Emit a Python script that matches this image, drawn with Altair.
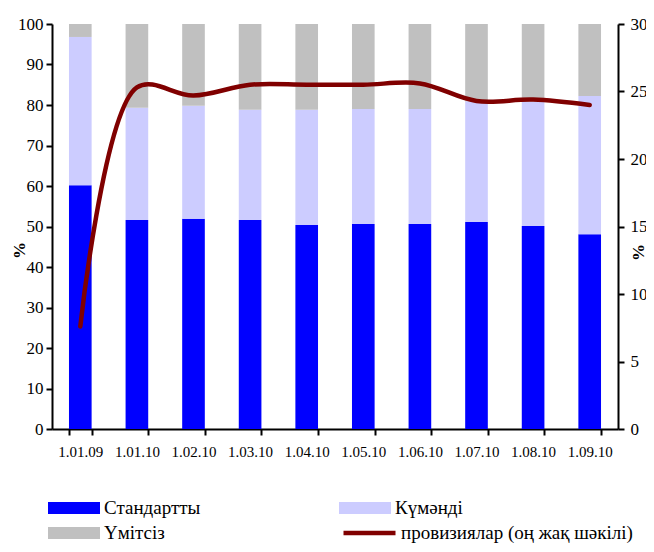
import altair as alt
import pandas as pd

dates = ["1.01.09", "1.01.10", "1.02.10", "1.03.10", "1.04.10",
         "1.05.10", "1.06.10", "1.07.10", "1.08.10", "1.09.10"]
standard = [60.2, 51.6, 51.9, 51.6, 50.4, 50.6, 50.6, 51.1, 50.1, 48.1]
doubtful_top = [96.8, 79.3, 79.8, 78.8, 78.8, 79.0, 79.0, 80.9, 80.8, 82.2]
provisions = [7.6, 25.3, 24.7, 25.5, 25.5, 25.5, 25.6, 24.3, 24.4, 24.0]

cats = ["Стандартты", "Күмәнді", "Үмітсіз"]
bar_colors = ["#0000FF", "#CCCCFF", "#C0C0C0"]
line_name = "провизиялар (оң жақ шәкілі)"
line_color = "#800000"

rows = []
for i, d in enumerate(dates):
    s = standard[i]
    dbt = doubtful_top[i] - standard[i]
    bad = 100 - doubtful_top[i]
    rows.append({"date": d, "cat": cats[0], "value": s, "ord": 0})
    rows.append({"date": d, "cat": cats[1], "value": dbt, "ord": 1})
    rows.append({"date": d, "cat": cats[2], "value": bad, "ord": 2})
bars_df = pd.DataFrame(rows)
line_df = pd.DataFrame({"date": dates, "prov": provisions, "series": line_name})

FONT = "Liberation Serif"

x_enc = alt.X("date:N", sort=dates, title=None,
              scale=alt.Scale(paddingInner=0.6, paddingOuter=0.3),
              axis=alt.Axis(labelAngle=0, tickBand="extent", labelFontSize=15,
                            labelPadding=9))

bar_legend = alt.Legend(
    title=None, orient="none", legendX=-5, legendY=474, columns=2,
    direction="horizontal",
    columnPadding=137, rowPadding=5, clipHeight=20, symbolSize=2704,
    symbolType="M-1,-0.23L1,-0.23L1,0.23L-1,0.23Z",
    labelFont=FONT, labelFontSize=19, labelColor="black", labelOffset=3,
    labelLimit=400, symbolOpacity=1,
)

line_legend = alt.Legend(
    title=None, orient="none", legendX=289, legendY=499,
    clipHeight=20, symbolSize=2704, symbolType="stroke", symbolStrokeWidth=4.5,
    labelFont=FONT, labelFontSize=19, labelColor="black", labelOffset=3,
    labelLimit=400,
)

bars = alt.Chart(bars_df).mark_bar().encode(
    x=x_enc,
    y=alt.Y("value:Q", stack="zero", title="%",
            scale=alt.Scale(domain=[0, 100], nice=False),
            axis=alt.Axis(values=list(range(0, 101, 10)), orient="left",
                          titleAngle=-90, titleX=-24, titleY=226,
                          titleFontWeight="bold", titleFontSize=17,
                          labelFontSize=17, labelPadding=3)),
    color=alt.Color("cat:N", sort=cats,
                    scale=alt.Scale(domain=cats, range=bar_colors),
                    legend=bar_legend),
    order=alt.Order("ord:Q"),
)

line = alt.Chart(line_df).mark_line(
    strokeWidth=4.5, interpolate="catmull-rom", strokeCap="round"
).encode(
    x=alt.X("date:N", sort=dates),
    y=alt.Y("prov:Q", title="%",
            scale=alt.Scale(domain=[0, 30], nice=False),
            axis=alt.Axis(values=list(range(0, 31, 5)), orient="right",
                          titleAngle=-90, titleX=29, titleY=228,
                          titleFontWeight="bold", titleFontSize=17,
                          labelFontSize=17, labelPadding=6)),
    stroke=alt.Stroke("series:N",
                      scale=alt.Scale(domain=[line_name], range=[line_color]),
                      legend=line_legend),
)

chart = alt.layer(bars, line).resolve_scale(y="independent").properties(
    width=566, height=405,
    autosize=alt.AutoSizeParams(type="none"),
    padding={"left": 44, "top": 16, "right": 28, "bottom": 115},
).configure_view(stroke=None).configure_axis(
    domainColor="black", domainWidth=2, tickColor="black", tickWidth=2,
    tickSize=6, grid=False, labelFont=FONT, titleFont=FONT,
    labelColor="black", titleColor="black"
).configure_legend(labelFont=FONT)

chart.save("out.html", embed_options={"renderer": "svg", "actions": False})
